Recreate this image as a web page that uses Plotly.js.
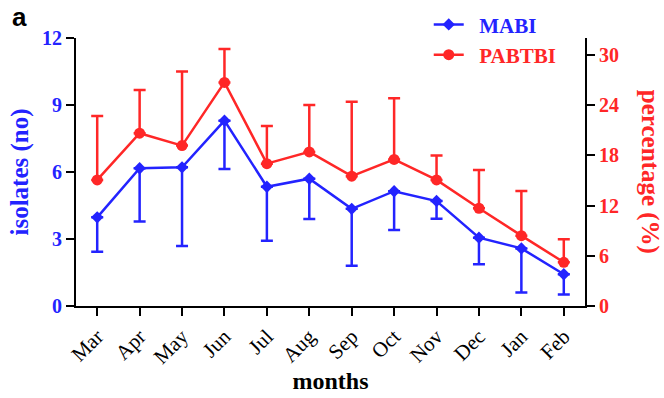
<!DOCTYPE html>
<html>
<head>
<meta charset="utf-8">
<script src="https://cdn.plot.ly/plotly-3.0.1.min.js"></script>
<style>html,body{margin:0;padding:0;background:#fff;}#chart{width:664px;height:398px;}</style>
</head>
<body>
<div id="chart"></div>
<script>
var months = ['Mar','Apr','May','Jun','Jul','Aug','Sep','Oct','Nov','Dec','Jan','Feb'];
var mabi = [3.97, 6.17, 6.21, 8.30, 5.34, 5.70, 4.35, 5.14, 4.70, 3.06, 2.58, 1.42];
var mabiErrLower = [1.54, 2.39, 3.52, 2.17, 2.42, 1.81, 2.55, 1.74, 0.79, 1.19, 1.97, 0.90];
var pabtbi = [15.05, 20.63, 19.15, 26.7, 17.0, 18.4, 15.5, 17.5, 15.05, 11.67, 8.4, 5.22];
var pabtbiErrUpper = [7.65, 5.17, 8.85, 4.0, 4.5, 5.6, 8.9, 7.3, 2.91, 4.58, 5.34, 2.75];
var leftTicks = [0, 3, 6, 9, 12];
var rightTicks = [0, 6, 12, 18, 24, 30];
var zeros = months.map(function(){ return 0; });

var BLUE = '#2323ff';
var RED = '#ff2727';
var SERIF = 'Liberation Serif, Times New Roman, serif';

var traces = [
  {
    name: '&nbsp;&nbsp;<span style="color:' + BLUE + '">MABI</span>',
    x: months, y: mabi, type: 'scatter', mode: 'lines+markers',
    line: {color: BLUE, width: 2.5},
    marker: {symbol: 'diamond', size: 9.5, color: BLUE},
    error_y: {type: 'data', symmetric: false, array: zeros, arrayminus: mabiErrLower,
              color: BLUE, thickness: 2.5, width: 6},
    xaxis: 'x', yaxis: 'y'
  },
  {
    name: '&nbsp;&nbsp;<span style="color:' + RED + '">PABTBI</span>',
    x: months, y: pabtbi, type: 'scatter', mode: 'lines+markers',
    line: {color: RED, width: 2.5},
    marker: {symbol: 'circle', size: 11, color: RED},
    error_y: {type: 'data', symmetric: false, array: pabtbiErrUpper, arrayminus: zeros,
              color: RED, thickness: 2.5, width: 6},
    xaxis: 'x', yaxis: 'y2'
  }
];

var layout = {
  width: 664, height: 398,
  margin: {l: 76, r: 79, t: 38, b: 92, autoexpand: false},
  paper_bgcolor: '#fff', plot_bgcolor: '#fff',
  showlegend: true,
  legend: {
    x: 0.693, y: 1.126, xanchor: 'left', yanchor: 'top',
    font: {family: SERIF, size: 21, weight: 'bold'},
    bgcolor: 'rgba(0,0,0,0)', tracegroupgap: 0, itemwidth: 30
  },
  xaxis: {
    type: 'category', categoryorder: 'array', categoryarray: months,
    range: [-0.5, 11.5],
    showline: true, linecolor: '#000', linewidth: 2,
    ticks: 'outside', ticklen: 8, tickwidth: 2, tickcolor: '#000',
    tickangle: -45,
    tickfont: {family: SERIF, size: 21, color: '#000'},
    showgrid: false, zeroline: false,
    title: {text: 'months', font: {family: SERIF, size: 24, color: '#000', weight: 'bold'}, standoff: 4}
  },
  yaxis: {
    range: [0, 12], tickvals: leftTicks, ticktext: leftTicks.map(String),
    showline: true, linecolor: '#000', linewidth: 2,
    ticks: 'outside', ticklen: 8, tickwidth: 2, tickcolor: '#000',
    tickfont: {family: SERIF, size: 20, color: BLUE, weight: 'bold'},
    showgrid: false, zeroline: false,
    title: {text: 'isolates (no)', font: {family: SERIF, size: 25, color: BLUE, weight: 'bold'}, standoff: 6}
  },
  yaxis2: {
    range: [0, 32], tickvals: rightTicks, ticktext: rightTicks.map(String),
    overlaying: 'y', side: 'right',
    showline: true, linecolor: '#000', linewidth: 2,
    ticks: 'outside', ticklen: 8, tickwidth: 2, tickcolor: '#000',
    tickfont: {family: SERIF, size: 20, color: RED, weight: 'bold'},
    showgrid: false, zeroline: false
  },
  annotations: [
    {text: 'percentage (%)', xref: 'paper', yref: 'paper', x: 1.128, y: 0.5,
     xanchor: 'center', yanchor: 'middle', textangle: 90, showarrow: false,
     font: {family: SERIF, size: 25, color: RED, weight: 'bold'}},
    {text: 'a', xref: 'paper', yref: 'paper', x: -0.13, y: 1.08,
     xanchor: 'left', yanchor: 'middle', showarrow: false,
     font: {family: 'Liberation Sans, Arial, sans-serif', size: 26, color: '#000', weight: 'bold'}}
  ]
};

Plotly.newPlot('chart', traces, layout, {staticPlot: true, displayModeBar: false});
</script>
</body>
</html>
